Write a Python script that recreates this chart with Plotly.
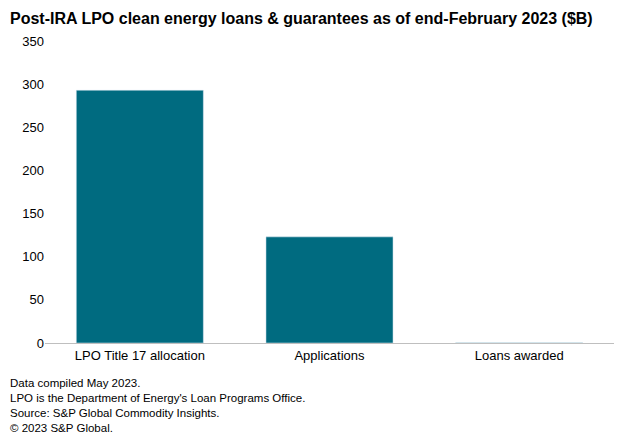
import plotly.graph_objects as go

categories = ['LPO Title 17 allocation', 'Applications', 'Loans awarded']
values = [293, 123, 0.3]

title = 'Post-IRA LPO clean energy loans & guarantees as of end-February 2023 ($B)'
notes = ["Data compiled May 2023.",
         "LPO is the Department of Energy's Loan Programs Office.",
         "Source: S&P Global Commodity Insights.",
         "\u00a9 2023 S&P Global."]

fig = go.Figure(go.Bar(x=categories, y=values, marker_color='#006b80', width=0.67))

fig.update_layout(
    width=624, height=441,
    margin=dict(l=37, r=18, t=33, b=106),
    paper_bgcolor='white', plot_bgcolor='white',
    font=dict(family='Arial, Liberation Sans', size=13, color='black'),
    showlegend=False,
    yaxis=dict(range=[0, 350], dtick=50, showgrid=False, ticks='', zeroline=False),
    xaxis=dict(showline=True, linecolor='#bfbfbf', linewidth=1, ticks=''),
)

fig.add_annotation(text='<b>' + title + '</b>', xref='paper', yref='paper',
                   x=0, y=1.0, xshift=-37, yshift=33, xanchor='left', yanchor='top',
                   showarrow=False, font=dict(size=16))
fig.add_annotation(text='<br>'.join(notes), xref='paper', yref='paper',
                   x=0, y=0, xshift=-37, yshift=-32, xanchor='left', yanchor='top',
                   showarrow=False, align='left', font=dict(size=11.5))

fig.write_html('out.html')
